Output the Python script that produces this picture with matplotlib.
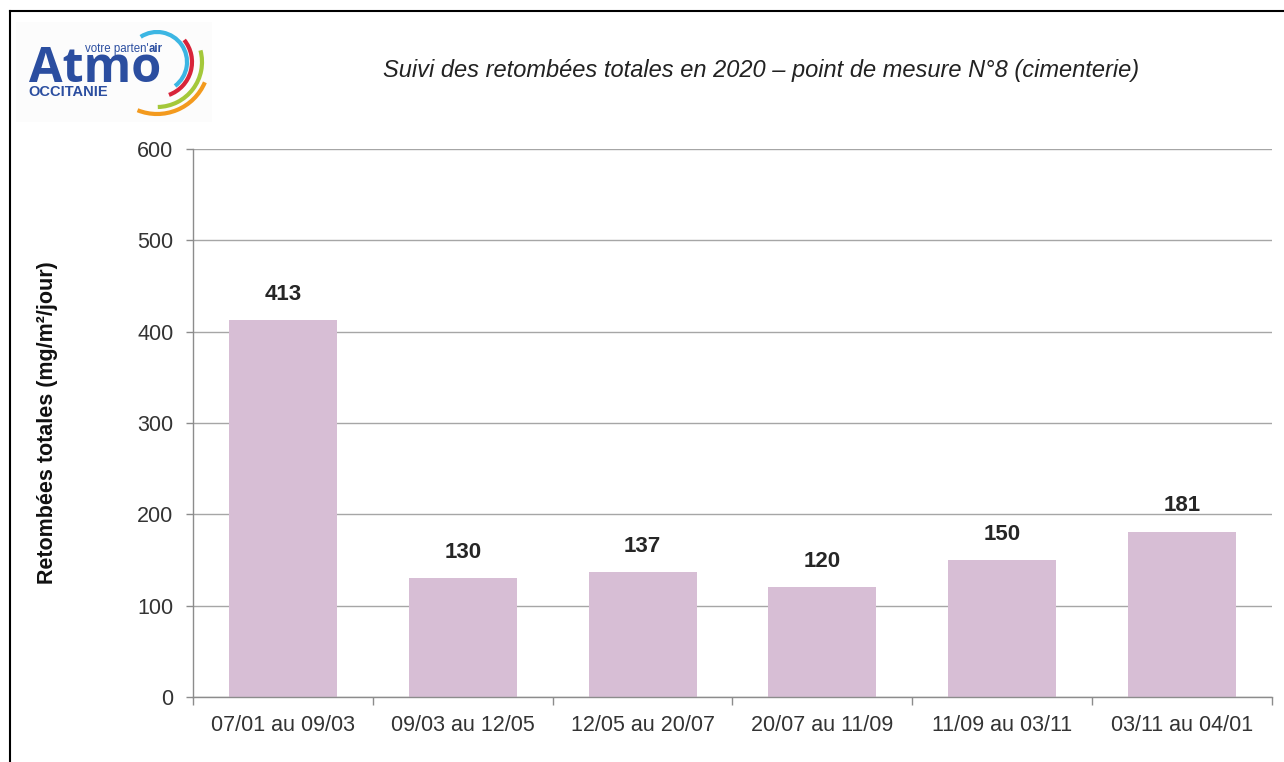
import matplotlib
matplotlib.use('Agg')
import matplotlib.pyplot as plt
from matplotlib.patches import Arc, Rectangle
from matplotlib.lines import Line2D
import numpy as np

# Data
periods = ['07/01 au 09/03', '09/03 au 12/05', '12/05 au 20/07',
           '20/07 au 11/09', '11/09 au 03/11', '03/11 au 04/01']
retombees = [413, 130, 137, 120, 150, 181]
y_ticks = [0, 100, 200, 300, 400, 500, 600]

title = 'Suivi des retombées totales en 2020 \u2013 point de mesure N°8 (cimenterie)'
y_label = 'Retombées totales (mg/m²/jour)'

plt.rcParams['font.family'] = ['Liberation Sans', 'DejaVu Sans']

W, H = 1284, 762
fig = plt.figure(figsize=(W / 100, H / 100), dpi=100)
fig.patch.set_facecolor('white')

# frame lines (top and left) of the original slide
fig.add_artist(Line2D([10 / W, 1.0], [1 - 11 / H, 1 - 11 / H], color='black', lw=1.5))
fig.add_artist(Line2D([10 / W, 10 / W], [0, 1 - 11 / H], color='black', lw=1.5))

# main chart
ax = fig.add_axes([193 / W, 1 - 697 / H, (1272 - 193) / W, (697 - 149) / H])
x = np.arange(len(periods))
ax.bar(x, retombees, width=0.6, color='#d7bed5', zorder=2)

for xi, v in zip(x, retombees):
    ax.annotate(str(v), (xi, v), xytext=(0, 11), textcoords='offset points',
                ha='center', va='bottom', fontsize=16, fontweight='bold',
                color='#262626')

ax.set_xlim(-0.5, len(periods) - 0.5)
ax.set_ylim(0, 600)
ax.set_yticks(y_ticks)
ax.set_yticklabels([str(t) for t in y_ticks])
ax.yaxis.grid(True, color='#a6a6a6', lw=1.0, zorder=0)
ax.set_axisbelow(True)

ax.set_xticks(x)
ax.set_xticklabels(periods)
ax.set_xticks(np.arange(-0.5, len(periods)), minor=True)
ax.tick_params(axis='x', which='major', length=0, pad=13, labelsize=15.5,
               labelcolor='#333333')
ax.tick_params(axis='x', which='minor', length=6, color='#8c8c8c', width=1)
ax.tick_params(axis='y', length=5, color='#8c8c8c', width=1, pad=9,
               labelsize=15.5, labelcolor='#333333')

for side in ['top', 'right']:
    ax.spines[side].set_visible(False)
for side in ['left', 'bottom']:
    ax.spines[side].set_color('#8c8c8c')
    ax.spines[side].set_linewidth(1)

ax.set_ylabel(y_label, fontsize=15.5, fontweight='bold', color='#111111')
ax.yaxis.set_label_coords(-0.125, 0.5)

fig.text(761 / W, 1 - 70 / H, title, ha='center', va='center',
         fontsize=17, style='italic', color='#222222')

# logo
lax = fig.add_axes([16 / W, 1 - 122 / H, 196 / W, 100 / H])
lax.set_xlim(0, 196)
lax.set_ylim(100, 0)
lax.axis('off')
lax.add_patch(Rectangle((0, 0), 196, 100, facecolor='#fcfcfc', edgecolor='none'))
blue = '#2b4ea0'
lax.text(13, 60, 'Atmo', fontsize=35, fontweight='bold', color=blue,
         ha='left', va='baseline', family=['Open Sans', 'Liberation Sans'])
t_votre = lax.text(69, 30, "votre parten'", fontsize=8.3, color=blue,
                   ha='left', va='baseline')
lax.annotate('air', xy=(1, 0), xycoords=t_votre, fontsize=8.3, fontweight='bold',
             color=blue, ha='left', va='bottom')
lax.text(12, 70, 'OCCITANIE', fontsize=10.5, fontweight='bold', color=blue,
         ha='left', va='center')
cx, cy = 141, 40
arcs = [(30, -123, 53, '#3cb6e3'), (35, -39, 70, '#d8243a'),
        (45, -15, 89, '#a4c83a'), (52, 23, 112, '#f39a1e')]
for r, t1, t2, c in arcs:
    lax.add_patch(Arc((cx, cy), 2 * r, 2 * r, theta1=t1, theta2=t2,
                      color=c, lw=3))

fig.savefig('out.png', dpi=100)
